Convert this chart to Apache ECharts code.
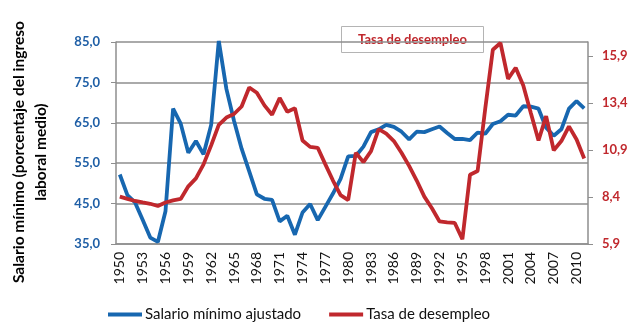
<!DOCTYPE html>
<html>
<head>
<meta charset="utf-8">
<script src="https://cdn.jsdelivr.net/npm/echarts@6/dist/echarts.min.js"></script>
<style>html,body{margin:0;padding:0;background:#fff;}#c{width:636px;height:328px;}</style>
</head>
<body>
<div id="c"></div>
<script>
const years = ['1950','1951','1952','1953','1954','1955','1956','1957','1958','1959',
  '1960','1961','1962','1963','1964','1965','1966','1967','1968','1969',
  '1970','1971','1972','1973','1974','1975','1976','1977','1978','1979',
  '1980','1981','1982','1983','1984','1985','1986','1987','1988','1989',
  '1990','1991','1992','1993','1994','1995','1996','1997','1998','1999',
  '2000','2001','2002','2003','2004','2005','2006','2007','2008','2009',
  '2010','2011'];
const salarioMinimo = [52.2,47.1,45.3,41.0,36.6,35.5,43.1,68.5,64.8,57.6,
  60.5,57.2,64.5,85.3,73.4,65.5,58.6,53.0,47.3,46.2,
  45.9,40.6,42.0,37.3,42.8,44.9,40.9,44.2,47.5,51.1,
  56.7,56.8,59.1,62.7,63.4,64.5,64.0,62.8,60.9,62.8,
  62.7,63.4,64.1,62.5,61.0,61.0,60.7,62.6,62.3,64.7,
  65.4,67.0,66.8,69.1,69.0,68.5,63.8,61.8,63.4,68.5,
  70.4,68.6];
const tasaDesempleo = [8.42,8.30,8.19,8.11,8.04,7.92,8.11,8.22,8.30,8.97,
  9.39,10.14,11.15,12.24,12.63,12.82,13.22,14.23,13.95,13.28,
  12.78,13.67,12.94,13.13,11.41,11.07,11.02,10.14,9.28,8.50,
  8.24,10.76,10.26,10.84,12.01,11.77,11.38,10.76,10.06,9.28,
  8.42,7.80,7.10,7.05,7.02,6.15,9.59,9.79,13.10,16.24,
  16.60,14.69,15.28,14.34,12.86,11.41,12.71,10.89,11.38,12.16,
  11.46,10.45];
const leftTicks = {min: 35, max: 85, interval: 10};
const rightTicks = {min: 5.9, max: 16.65, interval: 2.5};

const BLUE = '#1767b0', RED = '#c0282d', GRID = '#8e8e8e';
const FONT = 'Lato, "Liberation Sans", sans-serif';
const fmt = v => v.toFixed(1).replace('.', ',');

const chart = echarts.init(document.getElementById('c'));
chart.setOption({
  animation: false,
  grid: {left: 105, right: 48, top: 14, bottom: 84, containLabel: false},
  xAxis: {
    type: 'category', data: years, boundaryGap: true,
    axisLine: {lineStyle: {color: GRID, width: 1.5}},
    axisTick: {interval: 0, length: 5, lineStyle: {color: GRID, width: 1}},
    axisLabel: {interval: 2, rotate: 90, color: '#111', fontSize: 14, fontFamily: FONT, margin: 8}
  },
  yAxis: [{
    type: 'value', min: leftTicks.min, max: leftTicks.max, interval: leftTicks.interval,
    name: 'Salario mínimo (porcentaje del ingreso\nlaboral medio)',
    nameLocation: 'middle', nameGap: 64, nameRotate: 90,
    nameTextStyle: {color: '#000', fontWeight: 'bold', fontSize: 15.5, fontFamily: FONT, lineHeight: 22, padding: [0, 18, 0, 0]},
    axisLine: {show: true, lineStyle: {color: GRID, width: 1.5}},
    axisTick: {show: true, length: 5, lineStyle: {color: GRID}},
    splitLine: {lineStyle: {color: GRID, width: 1.5}},
    axisLabel: {formatter: fmt, color: '#1f5fa6', fontWeight: 'bold', fontSize: 13, fontFamily: FONT, margin: 16}
  }, {
    type: 'value', min: rightTicks.min, max: rightTicks.max, interval: rightTicks.interval,
    position: 'right',
    axisLine: {show: true, lineStyle: {color: GRID, width: 1.5}},
    axisTick: {show: true, length: 5, lineStyle: {color: GRID}},
    splitLine: {show: false},
    axisLabel: {formatter: fmt, showMaxLabel: false, color: RED, fontWeight: 'bold', fontSize: 13, fontFamily: FONT, margin: 14}
  }],
  legend: {
    data: ['Salario mínimo ajustado', 'Tasa de desempleo'],
    left: 103, top: 302, icon: 'rect', itemWidth: 34, itemHeight: 4, itemGap: 28,
    textStyle: {color: '#111', fontSize: 15, fontFamily: FONT, padding: [0, 0, 0, -2]}
  },
  graphic: [{
    type: 'group', left: 341, top: 26,
    children: [
      {type: 'rect', shape: {x: 0, y: 0, width: 142, height: 26}, style: {fill: '#fff', stroke: '#b4b4b4', lineWidth: 1}},
      {type: 'text', x: 71, y: 13, style: {text: 'Tasa de desempleo', fill: RED, font: 'bold 13px ' + FONT, align: 'center', verticalAlign: 'middle'}}
    ]
  }],
  series: [{
    name: 'Salario mínimo ajustado', type: 'line', yAxisIndex: 0, data: salarioMinimo,
    showSymbol: false, symbol: 'none', lineStyle: {color: BLUE, width: 3.8}, itemStyle: {color: BLUE}
  }, {
    name: 'Tasa de desempleo', type: 'line', yAxisIndex: 1, data: tasaDesempleo,
    showSymbol: false, symbol: 'none', lineStyle: {color: RED, width: 3.8}, itemStyle: {color: RED}
  }]
});
</script>
</body>
</html>
